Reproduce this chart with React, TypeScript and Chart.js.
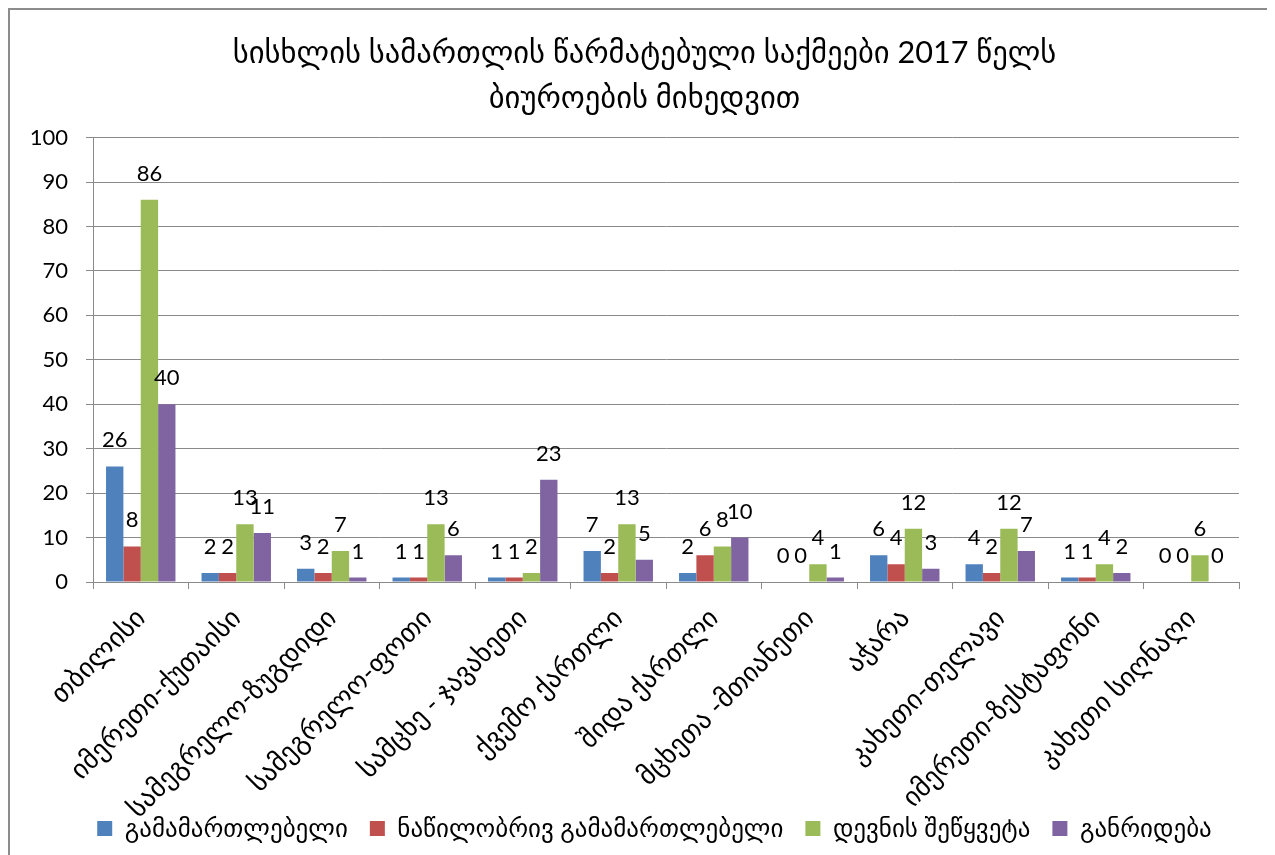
import React, { useEffect, useRef } from "react";
import { Chart, registerables } from "chart.js";

Chart.register(...registerables);

const titleLines = [
  "სისხლის სამართლის წარმატებული საქმეები 2017 წელს",
  "ბიუროების მიხედვით",
];

const categories = [
  "თბილისი",
  "იმერეთი-ქუთაისი",
  "სამეგრელო-ზუგდიდი",
  "სამეგრელო-ფოთი",
  "სამცხე - ჯავახეთი",
  "ქვემო ქართლი",
  "შიდა ქართლი",
  "მცხეთა -მთიანეთი",
  "აჭარა",
  "კახეთი-თელავი",
  "იმერეთი-ზესტაფონი",
  "კახეთი სიღნაღი",
];

const seriesNames = [
  "გამამართლებელი",
  "ნაწილობრივ გამამართლებელი",
  "დევნის შეწყვეტა",
  "განრიდება",
];

const acquittal = [26, 2, 3, 1, 1, 7, 2, 0, 6, 4, 1, 0];
const partialAcquittal = [8, 2, 2, 1, 1, 2, 6, 0, 4, 2, 1, 0];
const discontinued = [86, 13, 7, 13, 2, 13, 8, 4, 12, 12, 4, 6];
const diversion = [40, 11, 1, 6, 23, 5, 10, 1, 3, 7, 2, 0];

const seriesColors = ["#4F81BD", "#C0504D", "#9BBB59", "#8064A2"];

const yTicks = [0, 10, 20, 30, 40, 50, 60, 70, 80, 90, 100];

const FONT = "Lato, 'DejaVu Sans', sans-serif";
const GRID = "#8a8a8a";

const dataLabelPlugin = {
  id: "dataLabels",
  afterLayout(chart: any) {
    // Centre legend and title like the original
    if (chart.legend) {
      chart.legend.left += 30;
      chart.legend.right += 30;
    }
    if (chart.titleBlock) chart.titleBlock.left += 40;
    // let rotated category labels extend below the axis box
    if (chart.scales.x) chart.scales.x.bottom = chart.height;
  },
  afterDatasetsDraw(chart: any) {
    const ctx = chart.ctx;
    ctx.save();
    ctx.font = `22px ${FONT}`;
    ctx.fillStyle = "#000";
    ctx.textAlign = "center";
    ctx.textBaseline = "alphabetic";
    chart.data.datasets.forEach((ds: any, i: number) => {
      const meta = chart.getDatasetMeta(i);
      meta.data.forEach((el: any, j: number) => {
        ctx.fillText(String(ds.data[j]), el.x, el.y - 19);
      });
    });
    ctx.restore();
  },
};

export default function App() {
  const ref = useRef<HTMLCanvasElement | null>(null);

  useEffect(() => {
    if (!ref.current) return;
    const data = [acquittal, partialAcquittal, discontinued, diversion];
    const chart = new Chart(ref.current, {
      type: "bar",
      data: {
        labels: categories,
        datasets: data.map((d, i) => ({
          label: seriesNames[i],
          data: d,
          backgroundColor: seriesColors[i],
          borderWidth: 0,
          categoryPercentage: 0.727,
          barPercentage: 1,
        })),
      },
      options: {
        animation: false,
        responsive: false,
        maintainAspectRatio: false,
        layout: { padding: { left: 0, right: 36, top: 0, bottom: 4 } },
        plugins: {
          tooltip: { enabled: false },
          title: {
            display: true,
            text: titleLines,
            color: "#000",
            font: { family: FONT, size: 30.6, weight: "normal", lineHeight: 1.48 },
            padding: { top: 20, bottom: 17 },
          },
          legend: {
            position: "bottom",
            labels: {
              boxWidth: 15,
              boxHeight: 15,
              color: "#000",
              padding: 22,
              font: { family: FONT, size: 25 },
            },
          },
        },
        scales: {
          x: {
            offset: true,
            afterFit(scale: any) {
              scale.height = 212;
            },
            grid: {
              offset: true,
              drawOnChartArea: false,
              drawTicks: true,
              tickLength: 7,
              color: GRID,
            },
            border: { color: GRID, width: 1 },
            ticks: {
              color: "#000",
              maxRotation: 45,
              minRotation: 45,
              autoSkip: false,
              padding: 13,
              font: { family: FONT, size: 27 },
            },
          },
          y: {
            min: 0,
            max: 100,
            afterFit(scale: any) {
              scale.width = 83;
            },
            afterBuildTicks(scale: any) {
              scale.ticks = yTicks.map((v) => ({ value: v }));
            },
            grid: { color: GRID, tickLength: 7 },
            border: { color: GRID, width: 1 },
            ticks: {
              color: "#000",
              padding: 18,
              font: { family: FONT, size: 22 },
            },
          },
        },
      },
      plugins: [dataLabelPlugin],
    });
    return () => chart.destroy();
  }, []);

  return (
    <div style={{ width: 1267, height: 847, overflow: "hidden" }}>
      <div
        style={{
          width: 1300,
          height: 900,
          borderTop: "2px solid #8c8c8c",
          borderLeft: "2px solid #8c8c8c",
          boxSizing: "border-box",
          background: "#fff",
        }}
      >
        <canvas ref={ref} width={1265} height={845} style={{ display: "block" }} />
      </div>
    </div>
  );
}
